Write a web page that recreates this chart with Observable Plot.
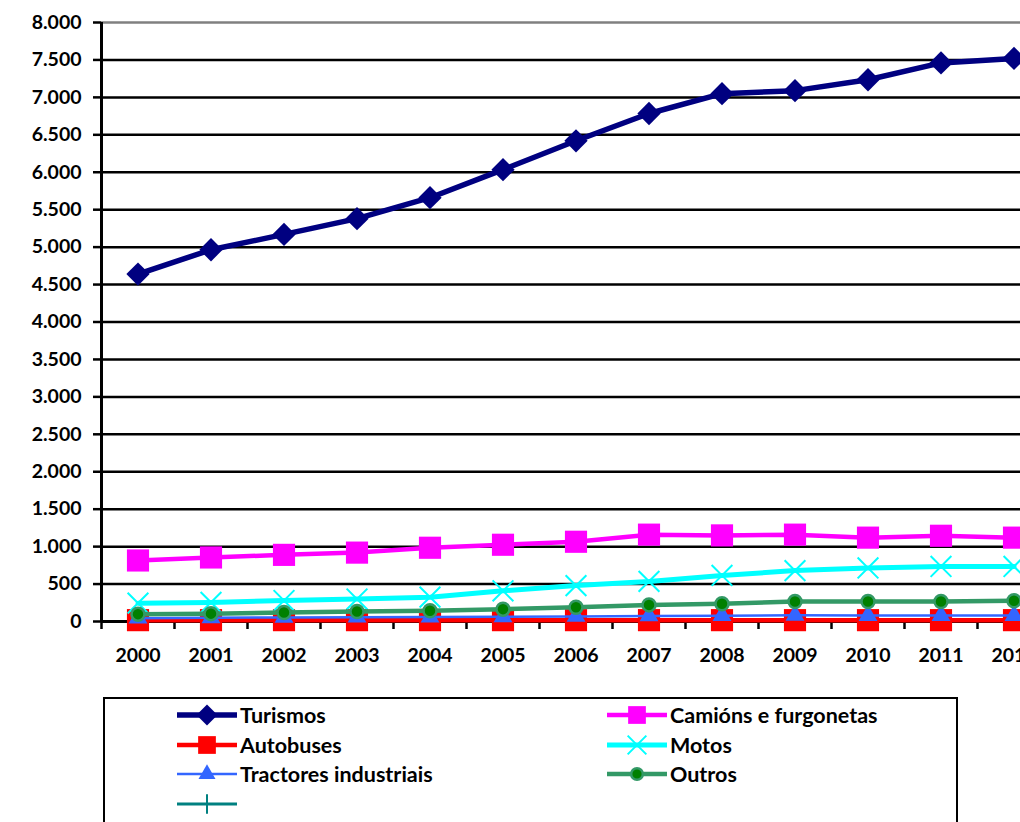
<!DOCTYPE html>
<html>
<head>
<meta charset="utf-8">
<script src="https://cdn.jsdelivr.net/npm/d3@7"></script>
<script src="https://cdn.jsdelivr.net/npm/@observablehq/plot@0.6"></script>
<style>
  html, body { margin: 0; padding: 0; background: #fff; overflow: hidden; width: 1020px; height: 822px; }
  #chart { position: absolute; left: 0; top: 0; width: 1050px; }
  #chart svg { max-width: none !important; width: 1050px; height: 680px; }
  #legend { position: absolute; left: 103px; top: 697px; width: 855px; height: 160px; border: 2px solid #000; box-sizing: border-box; font-family: Lato, sans-serif; font-weight: bold; font-size: 21.5px; color: #000; }
  .item { position: absolute; height: 30px; display: flex; align-items: center; white-space: nowrap; }
  .item svg { display: block; margin-right: 2px; }
</style>
</head>
<body>
<div id="chart"></div>
<div id="legend"></div>
<script>
const years = [2000, 2001, 2002, 2003, 2004, 2005, 2006, 2007, 2008, 2009, 2010, 2011, 2012];
const turismos  = [4640, 4965, 5170, 5380, 5660, 6035, 6420, 6785, 7050, 7090, 7235, 7460, 7520];
const camions   = [815, 855, 890, 920, 985, 1025, 1065, 1160, 1150, 1160, 1120, 1145, 1120];
const autobuses = [18, 18, 18, 18, 18, 18, 18, 18, 18, 18, 18, 18, 18];
const motos     = [245, 255, 280, 300, 325, 410, 480, 535, 615, 680, 715, 735, 735];
const tractores = [45, 50, 55, 58, 60, 62, 68, 75, 78, 82, 80, 80, 80];
const outros    = [98, 105, 120, 133, 143, 165, 190, 222, 237, 268, 268, 268, 277];
const seriesNames = ["Turismos", "Camións e furgonetas", "Autobuses", "Motos", "Tractores industriais", "Outros", ""];
const yTicks = d3.range(0, 8001, 500);

const fmt = d3.formatLocale({decimal: ",", thousands: ".", grouping: [3], currency: ["", ""]}).format(",");

const series = [
  {name: seriesNames[0], values: turismos,  stroke: "#000080", sw: 5.5, symbol: "diamond2", r: 10.5, fill: "#000080", mstroke: "none", msw: 0},
  {name: seriesNames[1], values: camions,   stroke: "#FF00FF", sw: 4.5, symbol: "square",   r: 12.5, fill: "#FF00FF", mstroke: "none", msw: 0},
  {name: seriesNames[2], values: autobuses, stroke: "#FF0000", sw: 4.5, symbol: "square",   r: 12.5, fill: "#FF0000", mstroke: "none", msw: 0},
  {name: seriesNames[3], values: motos,     stroke: "#00FFFF", sw: 5,   symbol: "times",    r: 9.5,  fill: "none",    mstroke: "#00FFFF", msw: 2},
  {name: seriesNames[4], values: tractores, stroke: "#3366FF", sw: 2.5, symbol: "triangle", r: 7,    fill: "#3366FF", mstroke: "none", msw: 0},
  {name: seriesNames[5], values: outros,    stroke: "#339966", sw: 4.5, symbol: "circle",   r: 6.5,  fill: "#008000", mstroke: "#339966", msw: 2.5}
];

const bounds = d3.range(1999.5, 2013, 1);

const marks = [
  Plot.ruleY(yTicks.filter(d => d > 0 && d < 8000), {stroke: "#000", strokeWidth: 2.5}),
  Plot.ruleY([8000], {stroke: "#808080", strokeWidth: 2.5}),
  Plot.axisY({ticks: yTicks, tickSize: 8, tickPadding: 12, tickFormat: fmt, strokeWidth: 2.5, stroke: "#000", fill: "#000", label: null}),
  Plot.axisX({ticks: bounds, tickSize: 8, tickFormat: () => "", strokeWidth: 2.5, stroke: "#000", label: null}),
  Plot.axisX({ticks: years, tickSize: 0, tickPadding: 27, tickFormat: d => String(d), fill: "#000", label: null}),
  Plot.ruleX([1999.5], {stroke: "#000", strokeWidth: 3}),
  Plot.ruleY([0], {stroke: "#000", strokeWidth: 3})
];

for (const s of series) {
  const rows = years.map((y, i) => ({year: y, value: s.values[i]}));
  marks.push(Plot.line(rows, {x: "year", y: "value", stroke: s.stroke, strokeWidth: s.sw}));
  marks.push(Plot.dot(rows, {x: "year", y: "value", symbol: s.symbol, r: s.r, fill: s.fill, stroke: s.mstroke, strokeWidth: s.msw}));
}

const chart = Plot.plot({
  width: 1050,
  height: 680,
  marginLeft: 101,
  marginRight: 0,
  marginTop: 22,
  marginBottom: 59,
  x: {type: "linear", domain: [1999.5, 2012.5], label: null},
  y: {domain: [0, 8000], label: null},
  style: {fontFamily: "Lato, sans-serif", fontWeight: "bold", fontSize: "19.5px", color: "#000", background: "#fff", overflow: "visible", maxWidth: "none"},
  marks
});
document.getElementById("chart").appendChild(chart);

// Legend
const legendItems = [
  {s: series[0], col: 0, row: 0},
  {s: series[1], col: 1, row: 0},
  {s: series[2], col: 0, row: 1},
  {s: series[3], col: 1, row: 1},
  {s: series[4], col: 0, row: 2},
  {s: series[5], col: 1, row: 2},
  {s: {name: seriesNames[6], stroke: "#008080", sw: 3, symbol: "plus", r: 7, fill: "none", mstroke: "#008080", msw: 2}, col: 0, row: 3}
];
const legend = d3.select("#legend");
const symbolMap = {diamond2: d3.symbolDiamond2, square: d3.symbolSquare, times: d3.symbolTimes, triangle: d3.symbolTriangle, circle: d3.symbolCircle, plus: d3.symbolPlus};
for (const it of legendItems) {
  const s = it.s;
  const div = legend.append("div").attr("class", "item")
    .style("left", (it.col === 0 ? 71 : 501) + "px")
    .style("top", (1 + it.row * 29.5) + "px");
  const svg = div.append("svg").attr("width", 62).attr("height", 30);
  svg.append("line").attr("x1", 1).attr("x2", 61).attr("y1", 15).attr("y2", 15)
    .attr("stroke", s.stroke).attr("stroke-width", s.sw);
  const scale = s.symbol === "square" ? 0.8 : 0.9;
  svg.append("path").attr("transform", "translate(31,15)")
    .attr("d", d3.symbol(symbolMap[s.symbol], Math.PI * (s.r * scale) ** 2)())
    .attr("fill", s.fill).attr("stroke", s.mstroke === "none" ? null : s.mstroke).attr("stroke-width", s.msw);
  div.append("span").text(s.name);
}
</script>
</body>
</html>
